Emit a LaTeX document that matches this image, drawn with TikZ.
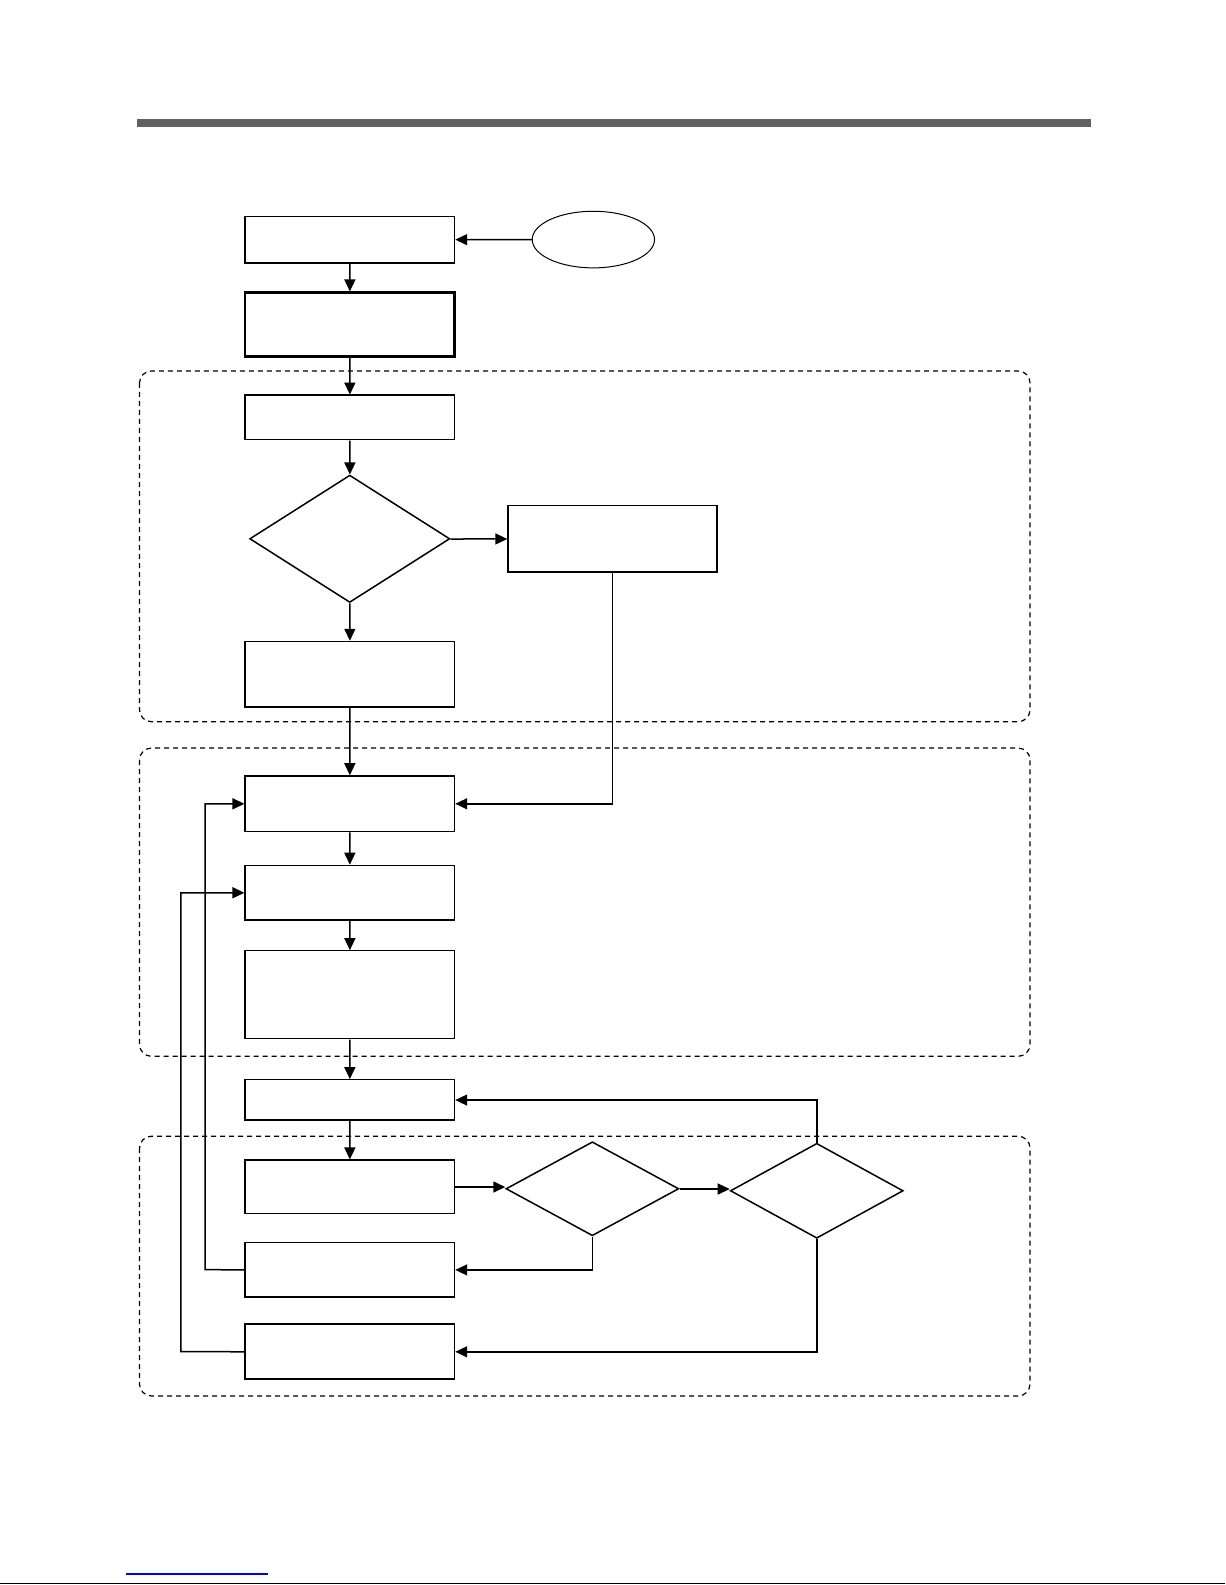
\documentclass[tikz,border=0pt]{standalone}
\usetikzlibrary{arrows.meta,shapes.geometric}
\tikzset{
	box/.style = {draw, line width = 1.5pt, minimum width = 207pt, inner sep = 0pt},
	dec/.style = {draw, diamond, line width = 1.5pt, inner sep = 0pt},
	zone/.style = {draw, dashed, line width = 1.2pt, rounded corners = 12pt, dash pattern = on 5pt off 4pt},
	flow/.style = {line width = 1.5pt, -{Triangle[length = 12pt, width = 11pt]}}
}
\begin{document}
\begin{tikzpicture}[x = 1pt, y = -1pt, scale = 1.0107, transform shape]
	\useasboundingbox (0, 0) rectangle (1212, 1568);
	% page rules
	\fill[black!62] (136, 118) rectangle (1079, 126);
	\draw[blue, line width = 1.2pt] (125, 1557) -- (265, 1557);
	\draw[line width = 1.2pt] (0, 1566.5) -- (1212, 1566.5);
	% dashed zones
	\draw[zone] (138, 367) rectangle (1019, 714);
	\draw[zone] (138, 740) rectangle (1019, 1045);
	\draw[zone] (138, 1124) rectangle (1019, 1381);
	% main column
	\foreach \name/\y/\h in {bA/237/46, bC/413/44, bD/667/65, bE/795/55, bF/883/54, bG/984/87, bH/1088/40, bI/1174/53, bJ/1256/54, bK/1337/54}{
		\node[box, minimum height = \h pt] (\name) at (346, \y) {};}
	\node[box, line width = 2.5pt, minimum height = 63pt] (bB) at (346, 321) {};
	\node[box, minimum height = 66pt] (bR) at (606, 533) {};
	\node[draw, ellipse, line width = 1pt, minimum width = 121pt, minimum height = 56pt] (start) at (587, 237) {};
	% decisions
	\node[dec, minimum width = 198pt, minimum height = 126pt] (dA) at (346, 533) {};
	\node[dec, minimum width = 171pt, minimum height = 93pt] (dB) at (586, 1176) {};
	\node[dec, minimum width = 171pt, minimum height = 94pt] (dC) at (808, 1178) {};
	% connectors
	\draw[flow] (start) -- (bA);
	\foreach \a/\b in {bA/bB, bB/bC, bC/dA, dA/bD, bD/bE, bE/bF, bF/bG, bG/bH, bH/bI}{
		\draw[flow] (\a) -- (\b);}
	\draw[flow] (dA) -- (bR);
	\draw[flow] (bR.south) |- (bE.east);
	\draw[flow] (bI.east) -- (bI.east -| dB.west);
	\draw[flow] (dB.east) -- (dB.east -| dC.west);
	\draw[flow] (dB.south) |- (bJ.east);
	\draw[flow] (dC.south) |- (bK.east);
	\draw[flow] (dC.north) |- (bH.east);
	\draw[flow] (bJ.west) -- (203, 1256) |- (bE.west);
	\draw[flow] (bK.west) -- (179, 1337) |- (bF.west);
\end{tikzpicture}
\end{document}
